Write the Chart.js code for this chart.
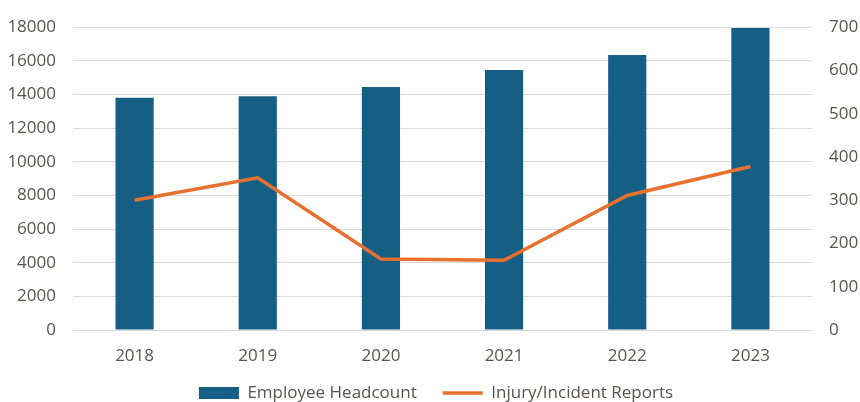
<!DOCTYPE html>
<html>
<head>
<meta charset="utf-8">
<script src="https://cdn.jsdelivr.net/npm/chart.js@4/dist/chart.umd.min.js"></script>
<style>
  html, body { margin: 0; padding: 0; background: #ffffff; }
  #wrap { width: 860px; height: 402px; }
</style>
</head>
<body>
<div id="wrap"><canvas id="chart" width="860" height="402"></canvas></div>
<script>
// Yearly figures
const years = ['2018', '2019', '2020', '2021', '2022', '2023'];
const headcount = [13800, 13900, 14450, 15450, 16350, 17950];
const incidents = [300, 352, 164, 161, 311, 378];

// Axis ranges
const headcountTicks = [0, 2000, 4000, 6000, 8000, 10000, 12000, 14000, 16000, 18000];
const incidentTicks = [0, 100, 200, 300, 400, 500, 600, 700];

const textColor = '#5a5450';
const font = { family: '"Open Sans", sans-serif', size: 17 };

// Legend: compact box height, wide gaps between items, row nudged down and slightly right
const legendLayout = {
  id: 'legendLayout',
  afterInit(chart) {
    const lg = chart.legend;
    const fit = lg.fit;
    lg.fit = function () {
      fit.call(this);
      this.height = 32;
    };
    const draw = lg.draw;
    lg.draw = function () {
      const top = this.top, left = this.left;
      this.top = top - 11.5;
      this.left = left + 12;
      draw.call(this);
      this.top = top;
      this.left = left;
    };
  }
};

new Chart(document.getElementById('chart'), {
  type: 'bar',
  data: {
    labels: years,
    datasets: [
      {
        type: 'bar',
        label: 'Employee Headcount',
        data: headcount,
        backgroundColor: '#165f84',
        borderWidth: 0,
        barPercentage: 0.31,
        categoryPercentage: 1,
        yAxisID: 'y',
        order: 1
      },
      {
        type: 'line',
        label: 'Injury/Incident Reports',
        data: incidents,
        borderColor: '#e9712f',
        backgroundColor: '#e9712f',
        borderWidth: 3.5,
        pointRadius: 0,
        tension: 0,
        yAxisID: 'y1',
        order: 0
      }
    ]
  },
  plugins: [legendLayout],
  options: {
    responsive: false,
    animation: false,
    layout: { padding: 0 },
    plugins: {
      tooltip: { enabled: false },
      legend: {
        position: 'bottom',
        labels: {
          color: textColor,
          font: font,
          usePointStyle: true,
          pointStyleWidth: 40,
          boxHeight: 12,
          padding: 26,
          sort: (a, b) => a.datasetIndex - b.datasetIndex,
          generateLabels(chart) {
            const items = Chart.defaults.plugins.legend.labels.generateLabels(chart);
            items.forEach(it => {
              const ds = chart.data.datasets[it.datasetIndex];
              if (ds.type === 'line') {
                it.pointStyle = 'line';
                it.strokeStyle = ds.borderColor;
                it.lineWidth = 3.5;
              } else {
                it.pointStyle = 'rect';
                it.lineWidth = 0;
              }
            });
            return items;
          }
        }
      }
    },
    scales: {
      x: {
        grid: { display: false },
        border: { display: false },
        ticks: { color: textColor, font: font, padding: 8 },
        afterFit(scale) { scale.height = 40; }
      },
      y: {
        position: 'left',
        min: headcountTicks[0],
        max: headcountTicks[headcountTicks.length - 1],
        afterBuildTicks(scale) { scale.ticks = headcountTicks.map(v => ({ value: v })); },
        grid: { color: '#dcdad8', lineWidth: 1, drawTicks: false },
        border: { display: false },
        ticks: { color: textColor, font: font, padding: 17, callback: v => String(v) },
        afterFit(scale) { scale.width = 73; }
      },
      y1: {
        position: 'right',
        min: incidentTicks[0],
        max: incidentTicks[incidentTicks.length - 1],
        afterBuildTicks(scale) { scale.ticks = incidentTicks.map(v => ({ value: v })); },
        grid: { display: false, drawTicks: false },
        border: { display: false },
        ticks: { color: textColor, font: font, padding: 17, callback: v => String(v) },
        afterFit(scale) { scale.width = 48; }
      }
    }
  }
});
</script>
</body>
</html>
